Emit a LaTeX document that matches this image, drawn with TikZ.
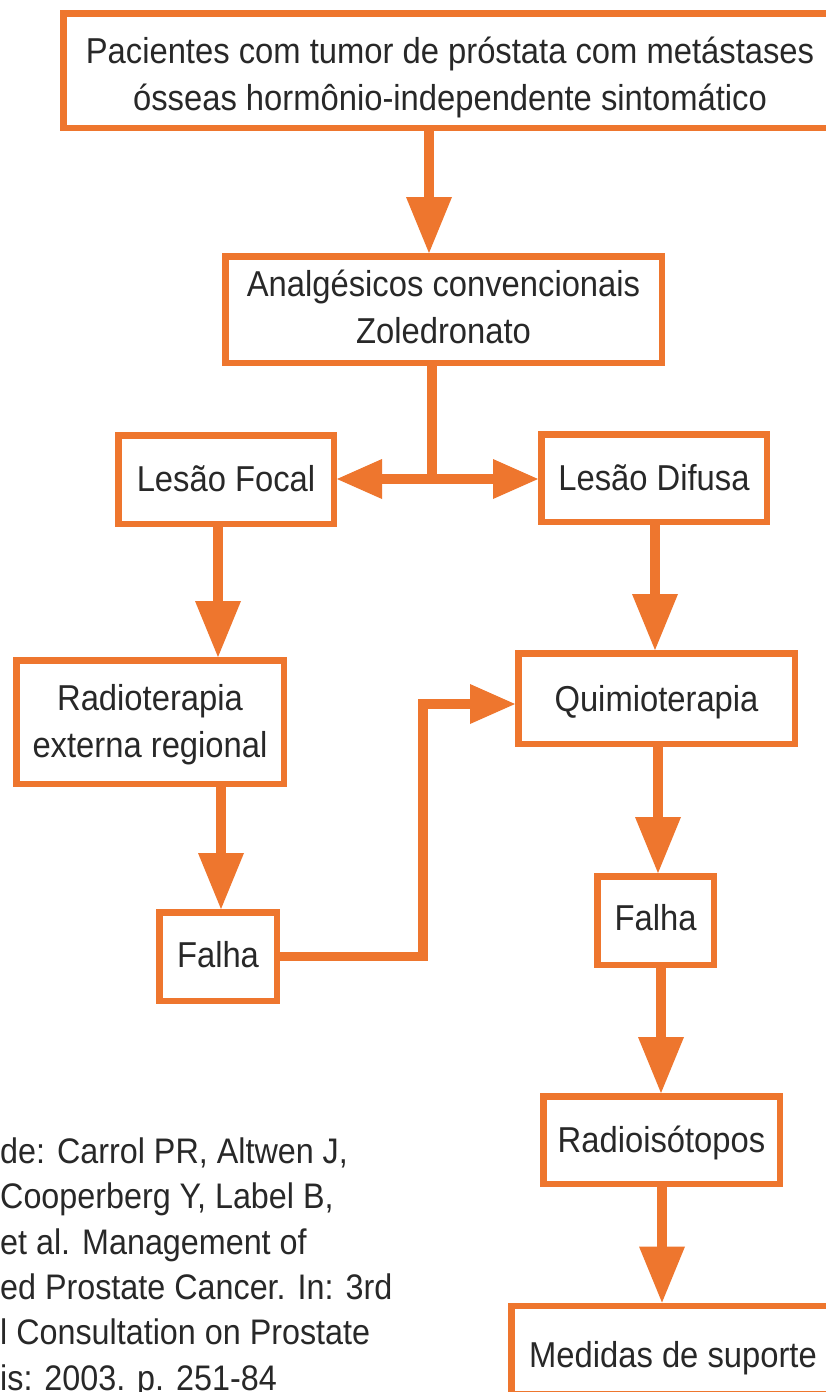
\documentclass[tikz,border=0pt]{standalone}
\usepackage{fontspec}
\setmainfont{Liberation Sans}[FakeStretch=0.91]
\usetikzlibrary{arrows.meta}
\definecolor{orng}{RGB}{238,118,46}
\definecolor{txt}{RGB}{40,40,40}
\newcommand\myH[1]{\rule{0pt}{#1pt}}
\newcommand\myD[1]{\rule[-#1pt]{0pt}{#1pt}}
\newcommand\fsbox{\fontsize{36pt}{47pt}\selectfont}
\newcommand\fsref{\fontsize{35.5pt}{45.4pt}\selectfont}
\tikzset{
  box/.style={draw=orng, line width=6.5pt, fill=white, inner sep=0pt, text=txt,
    align=center, font=\fsbox},
  shaft/.style={draw=orng, line width=9.5pt},
  arr/.style={shaft, -{Triangle[width=46pt,length=56pt,line width=0pt]}},
  harr/.style={shaft, -{Triangle[width=40pt,length=45pt,line width=0pt]}},
}
\begin{document}
\begin{tikzpicture}[x=1pt,y=-1pt]
\useasboundingbox (0,0) rectangle (826,1392);
\path[clip] (0,0) rectangle (826,1392);
\fill[white] (0,0) rectangle (826,1392);

\node[box, minimum width=773.5pt, minimum height=114.5pt] (top) at (450,70.5)
  {\myH{40}Pacientes com tumor de próstata com metástases\\ósseas hormônio-independente sintomático\myD{8}};
\node[box, minimum width=436.5pt, minimum height=106.5pt] (analg) at (443.5,309.5)
  {\myH{30}Analgésicos convencionais\\Zoledronato\myD{9}};
\node[box, minimum width=215.5pt, minimum height=88.5pt] (focal) at (226,479.5)
  {\rule[-9.6pt]{0pt}{43.6pt}Lesão Focal};
\node[box, minimum width=225.5pt, minimum height=87.5pt] (difusa) at (654,478)
  {\rule[-10pt]{0pt}{44pt}Lesão Difusa};
\node[box, minimum width=267.5pt, minimum height=123.5pt] (radio) at (150,722)
  {\myH{34}Radioterapia\\externa regional\myD{11}};
\node[box, minimum width=276.5pt, minimum height=90.5pt] (quimio) at (656.5,698.5)
  {\rule[-9.6pt]{0pt}{45.6pt}Quimioterapia};
\node[box, minimum width=117.5pt, minimum height=88.5pt] (falhaL) at (218,956.5)
  {\rule[-13pt]{0pt}{47pt}Falha};
\node[box, minimum width=116.5pt, minimum height=88.5pt] (falhaR) at (655.5,920.5)
  {\rule[-15pt]{0pt}{49pt}Falha};
\node[box, minimum width=236.5pt, minimum height=87.5pt] (radioiso) at (661.5,1140)
  {\rule[-8.6pt]{0pt}{42.6pt}Radioisótopos};
\node[box, minimum width=323.5pt, minimum height=88.5pt] (medidas) at (673,1350)
  {\rule[-8pt]{0pt}{50pt}Medidas de suporte};

\node[anchor=north west, inner sep=0pt, align=left, font=\fsref, text=txt] (ref) at (0,1133)
  {\myH{30}de: Carrol PR, Altwen J,\\Cooperberg Y, Label B,\\et al. Management of\\ed Prostate Cancer. In: 3rd\\l Consultation on Prostate\\is: 2003. p. 251-84};

% column coordinates
\coordinate (x1) at (429,0);
\coordinate (x3) at (218,0);
\coordinate (x4) at (655,0);
\coordinate (x5) at (221,0);
\coordinate (x7) at (658,0);
\coordinate (x8) at (661,0);
\coordinate (x9) at (662,0);
\coordinate (jn) at (432,479);
\coordinate (elb) at (423,704);

\draw[arr] (top.south -| x1) -- (analg.north -| x1);
\draw[shaft] (analg.south -| jn) -- (jn);
\draw[harr] (jn) -- (focal.east |- jn);
\draw[harr] (jn) -- (difusa.west |- jn);
\draw[arr] (focal.south -| x3) -- (radio.north -| x3);
\draw[arr] (difusa.south -| x4) -- (quimio.north -| x4);
\draw[arr] (radio.south -| x5) -- (falhaL.north -| x5);
\draw[harr] (falhaL.east) -| (elb) -- (quimio.west |- elb);
\draw[arr] (quimio.south -| x7) -- (falhaR.north -| x7);
\draw[arr] (falhaR.south -| x8) -- (radioiso.north -| x8);
\draw[arr] (radioiso.south -| x9) -- (medidas.north -| x9);
\end{tikzpicture}
\end{document}
